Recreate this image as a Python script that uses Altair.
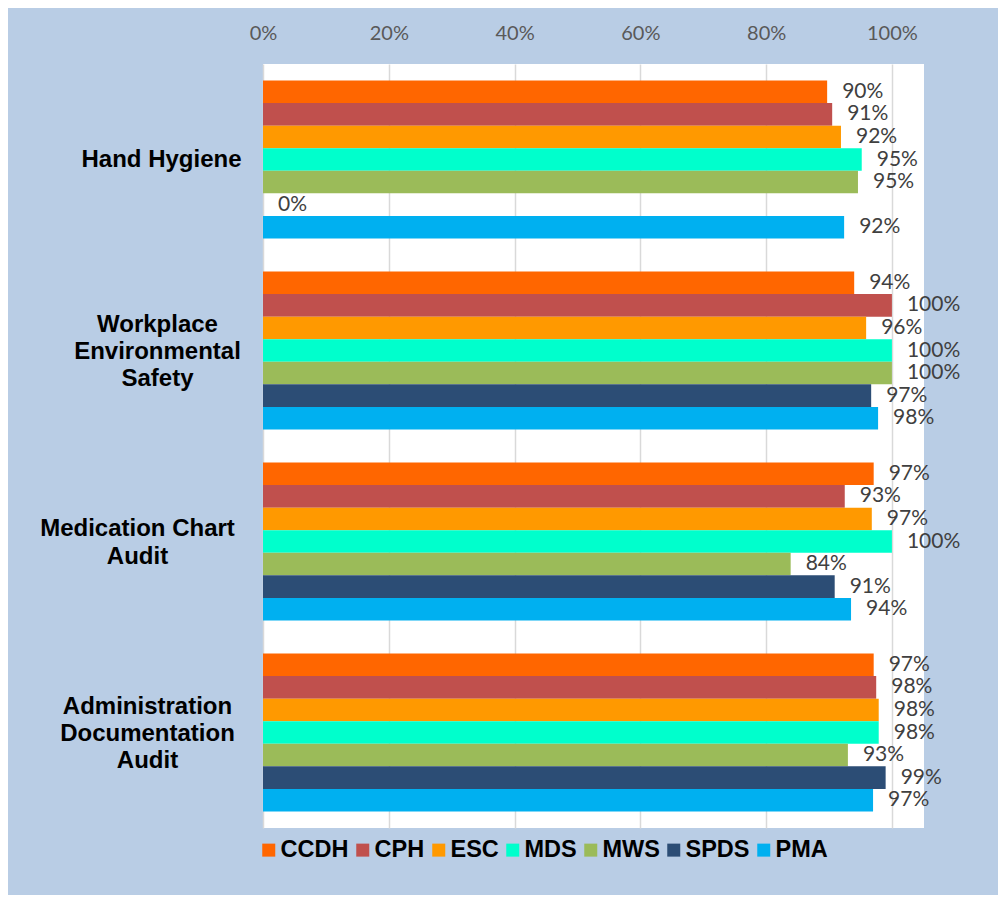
import altair as alt
import pandas as pd

categories = ["Hand Hygiene", "Workplace Environmental Safety",
              "Medication Chart Audit", "Administration Documentation Audit"]
category_lines = [["Hand Hygiene"], ["Workplace", "Environmental", "Safety"],
                  ["Medication Chart", "Audit"], ["Administration", "Documentation", "Audit"]]
series = ["CCDH", "CPH", "ESC", "MDS", "MWS", "SPDS", "PMA"]
colors = ["#ff6600", "#c0504d", "#ff9900", "#00ffcc", "#9bbb59", "#2c4d75", "#00b0f0"]

ccdh = [0.897, 0.940, 0.971, 0.971]
cph = [0.905, 1.000, 0.925, 0.975]
esc = [0.919, 0.959, 0.968, 0.979]
mds = [0.952, 1.000, 1.000, 0.979]
mws = [0.946, 1.000, 0.839, 0.930]
spds = [0.000, 0.967, 0.909, 0.990]
pma = [0.924, 0.978, 0.935, 0.970]

x_ticks = [0, 0.2, 0.4, 0.6, 0.8, 1.0]

values = [ccdh, cph, esc, mds, mws, spds, pma]
rows = []
for s, vals in zip(series, values):
    for c, v in zip(categories, vals):
        rows.append({"category": c, "series": s, "value": v})
df = pd.DataFrame(rows)

# multi-line category labels
expr = "''"
for c, lines in reversed(list(zip(categories, category_lines))):
    arr = "[" + ",".join("'" + l + "'" for l in lines) + "]"
    expr = f"datum.label == '{c}' ? {arr} : ({expr})"

LINE_H = 27.3
# vertical centring of multi-line blocks, and Excel-like horizontal placement
offset_cond = {"condition": [
    {"test": f"datum.value == '{c}'", "value": -(len(l) - 1) * LINE_H / 2 + 1.5}
    for c, l in zip(categories, category_lines) if len(l) > 1], "value": 0}
pads = [102, 106, 126, 116]
pad_cond = {"condition": [
    {"test": f"datum.value == '{c}'", "value": p}
    for c, p in zip(categories[1:], pads[1:])], "value": pads[0]}

y_enc = alt.Y("category:N", sort=categories, title=None,
              scale=alt.Scale(paddingInner=0.173, paddingOuter=0.0865),
              axis=alt.Axis(labelExpr=expr, labelAlign="center", labelBaseline="middle",
                            labelPadding=pad_cond, labelOffset=offset_cond,
                            tickSize=0, ticks=False, domain=False,
                            labelFont="Liberation Sans", labelFontWeight="bold",
                            labelFontSize=24, labelColor="#000000", labelLimit=400,
                            labelLineHeight=LINE_H))
yoff = alt.YOffset("series:N", sort=series, scale=alt.Scale(paddingInner=0, paddingOuter=0))
x_enc = alt.X("value:Q", title=None,
              scale=alt.Scale(domain=[0, 1.051], nice=False, zero=True),
              axis=alt.Axis(orient="top", values=x_ticks, format=".0%", ticks=False,
                            tickSize=0, domain=False, labelPadding=21,
                            labelFont="Lato", labelFontSize=20, labelColor="#595959",
                            gridColor="#d9d9d9", gridWidth=1.5, labelFlush=False))

bars = alt.Chart(df).mark_bar().encode(
    y=y_enc, yOffset=yoff, x=x_enc,
    color=alt.Color("series:N", sort=series,
                    scale=alt.Scale(domain=series, range=colors),
                    legend=alt.Legend(title=None, orient="none", direction="horizontal",
                                      legendX=-6, legendY=774, symbolType="square",
                                      symbolSize=169, symbolStrokeWidth=0,
                                      labelFont="Liberation Sans", labelFontWeight="bold",
                                      labelFontSize=23.5, labelColor="#000000",
                                      labelOffset=0, columnPadding=2, columns=7)),
)

labels = alt.Chart(df).mark_text(align="left", baseline="middle", dx=15,
                                 font="Lato", fontSize=21, color="#404040").encode(
    y=alt.Y("category:N", sort=categories), yOffset=alt.YOffset("series:N", sort=series),
    x="value:Q",
    text=alt.Text("value:Q", format=".0%"),
)

chart = (bars + labels).properties(
    width=661, height=764, background="#b9cde5",
    autosize=alt.AutoSizeParams(type="none"),
    padding={"left": 255, "top": 56, "right": 74, "bottom": 67},
).configure_view(fill="white", stroke=None)

chart.save("out.html", embed_options={"renderer": "svg", "actions": False})
